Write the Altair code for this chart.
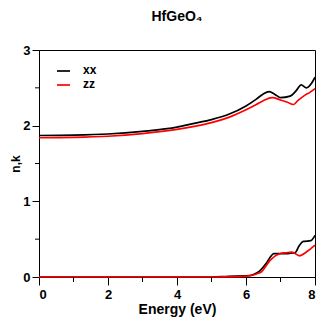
import altair as alt
import pandas as pd

energy_n_xx = [0, 1, 2, 3, 4, 4.5, 5, 5.5, 6, 6.3, 6.5, 6.67, 6.85, 7.0, 7.28, 7.45, 7.6, 7.75, 7.9, 8.0]
n_xx = [1.87, 1.875, 1.89, 1.925, 1.98, 2.03, 2.08, 2.15, 2.26, 2.35, 2.42, 2.45, 2.41, 2.37, 2.39, 2.46, 2.54, 2.50, 2.56, 2.64]

energy_n_zz = [0, 1, 2, 3, 4, 4.5, 5, 5.5, 6, 6.3, 6.5, 6.76, 7.0, 7.2, 7.38, 7.5, 7.7, 7.85, 8.0]
n_zz = [1.84, 1.845, 1.86, 1.895, 1.95, 1.99, 2.04, 2.11, 2.21, 2.28, 2.33, 2.37, 2.34, 2.31, 2.28, 2.33, 2.40, 2.44, 2.49]

energy_k_xx = [0, 5, 5.5, 6, 6.2, 6.4, 6.57, 6.81, 7.0, 7.2, 7.42, 7.55, 7.66, 7.88, 8.0]
k_xx = [0, 0, 0.01, 0.015, 0.03, 0.08, 0.17, 0.31, 0.31, 0.31, 0.32, 0.42, 0.47, 0.48, 0.55]

energy_k_zz = [0, 5, 5.8, 6.1, 6.3, 6.45, 6.7, 7.0, 7.15, 7.33, 7.55, 7.75, 8.0]
k_zz = [0, 0, 0.005, 0.015, 0.04, 0.07, 0.22, 0.31, 0.32, 0.33, 0.28, 0.33, 0.42]

series_names = ["xx", "zz"]
series_colors = ["#000000", "#ff0000"]

x_major = [0, 2, 4, 6, 8]
x_minor = [1, 3, 5, 7]
y_major = [0, 1, 2, 3]
y_minor = [0.5, 1.5, 2.5]

rows = []
for e, v in zip(energy_n_xx, n_xx):
    rows.append({"E": e, "v": v, "series": "xx", "q": "n"})
for e, v in zip(energy_n_zz, n_zz):
    rows.append({"E": e, "v": v, "series": "zz", "q": "n"})
for e, v in zip(energy_k_xx, k_xx):
    rows.append({"E": e, "v": v, "series": "xx", "q": "k"})
for e, v in zip(energy_k_zz, k_zz):
    rows.append({"E": e, "v": v, "series": "zz", "q": "k"})
df = pd.DataFrame(rows)

FONT = "Liberation Sans"
W, H = 276, 227

xscale = alt.Scale(domain=[0, 8], nice=False, zero=False)
yscale = alt.Scale(domain=[0, 3], nice=False, zero=False)
cscale = alt.Scale(domain=series_names, range=series_colors)

lines = alt.Chart(df).mark_line(strokeWidth=1.7, interpolate="monotone").encode(
    x=alt.X("E:Q", scale=xscale, title="Energy (eV)",
            axis=alt.Axis(values=x_major, tickSize=8, format="d", labelPadding=3)),
    y=alt.Y("v:Q", scale=yscale, title="n,k",
            axis=alt.Axis(values=y_major, tickSize=7, format="d", labelPadding=2)),
    color=alt.Color("series:N", scale=cscale, legend=None),
    detail="q:N",
)

# manual legend (inside the plot, top-left)
legend_layers = []
for i, name in enumerate(series_names):
    ldf = pd.DataFrame({"series": [name]})
    yy = 20 + i * 14
    legend_layers.append(
        alt.Chart(ldf).mark_rule(strokeWidth=1.7).encode(
            color=alt.Color("series:N", scale=cscale, legend=None),
            x=alt.value(18), x2=alt.value(31), y=alt.value(yy + 1))
    )
    legend_layers.append(
        alt.Chart(ldf).mark_text(font=FONT, fontWeight="bold", fontSize=12, align="left",
                                 baseline="middle", color="black").encode(
            text="series:N", x=alt.value(44), y=alt.value(yy))
    )

minor_x = alt.Chart(pd.DataFrame({"m": x_minor})).mark_rule(color="black", strokeWidth=1).encode(
    x=alt.X("m:Q", scale=xscale), y=alt.value(H), y2=alt.value(H + 5))
minor_y = alt.Chart(pd.DataFrame({"m": y_minor})).mark_rule(color="black", strokeWidth=1).encode(
    y=alt.Y("m:Q", scale=yscale), x=alt.value(0), x2=alt.value(-4))

chart = alt.layer(lines, minor_x, minor_y, *legend_layers).properties(
    width=W, height=H,
    title=alt.TitleParams("HfGeO₄", font=FONT, fontSize=14, fontWeight="bold", offset=20, anchor="middle"),
    autosize=alt.AutoSizeParams(type="none"),
    padding={"left": 31, "top": 42, "right": 4, "bottom": 42},
).configure_view(stroke="black", strokeWidth=1).configure_axis(
    domainColor="black", tickColor="black", labelColor="black", titleColor="black",
    labelFont=FONT, labelFontWeight="bold", labelFontSize=13,
    titleFont=FONT, titleFontWeight="bold",
    grid=False,
).configure_axisX(titlePadding=1, titleFontSize=14).configure_axisY(titlePadding=0, titleFontSize=12)

chart.save("out.html", embed_options={"renderer": "svg", "actions": False})
